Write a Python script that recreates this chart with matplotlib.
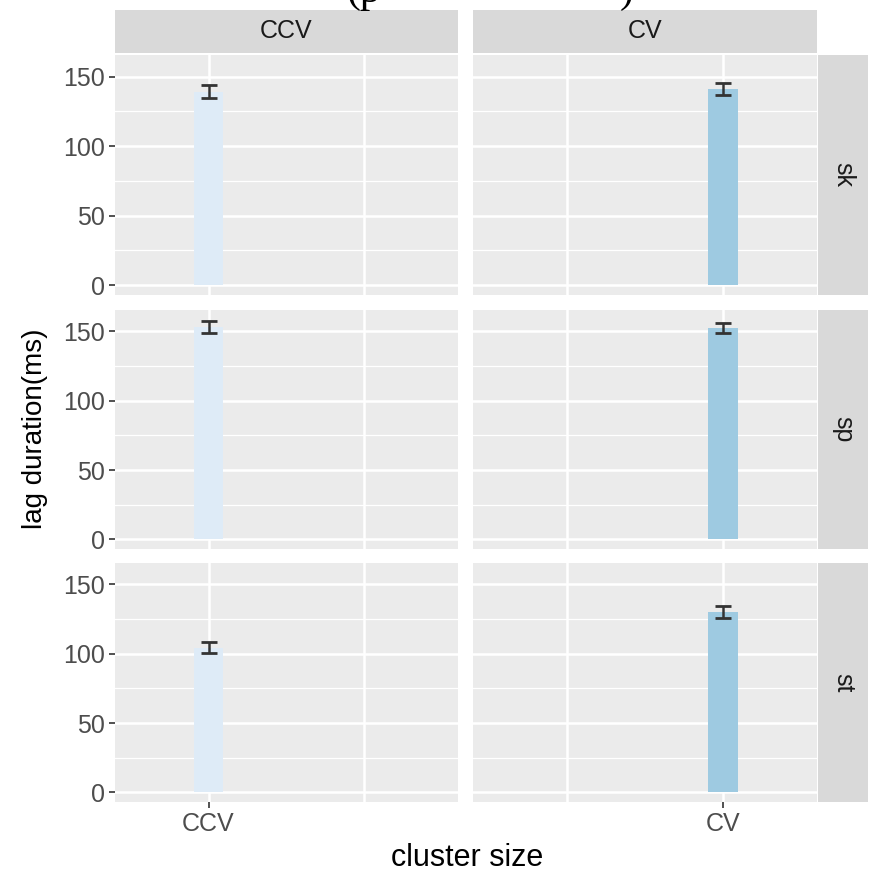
import numpy as np
import matplotlib.pyplot as plt

# Data: mean lag duration and error per facet.
rows = ['sk', 'sp', 'st']
cols = ['CCV', 'CV']
x_levels = ['CCV', 'CV']
means = {'CCV': [139, 153.3, 104.5], 'CV': [141, 152.7, 130.2]}
errs = {'CCV': [4.7, 4.2, 4.2], 'CV': [4.2, 3.6, 4.1]}
bar_colors = {'CCV': '#DEEBF7', 'CV': '#9ECAE1'}

W, H = 871, 875
fig = plt.figure(figsize=(W / 100, H / 100), dpi=100)
plt.rcParams['font.family'] = ['Liberation Sans', 'DejaVu Sans']

def px_axes(x0, y0, x1, y1):
    # pixel box (top-left origin) -> figure axes
    return fig.add_axes([x0 / W, 1 - y1 / H, (x1 - x0) / W, (y1 - y0) / H])

col_x = [(115, 458), (473, 817)]
row_y = [(55, 295), (310, 549), (563, 802)]
strip_bg = '#D9D9D9'
panel_bg = '#EBEBEB'
tick_fs = 18

for r, row in enumerate(rows):
    for c, col in enumerate(cols):
        ax = px_axes(col_x[c][0], row_y[r][0], col_x[c][1], row_y[r][1])
        ax.set_facecolor(panel_bg)
        xpos = x_levels.index(col) + 1
        ax.bar(xpos, means[col][r], width=0.19, color=bar_colors[col], zorder=3)
        ax.errorbar(xpos, means[col][r], yerr=errs[col][r], fmt='none',
                    ecolor='#333333', elinewidth=1.8, capsize=5.5, capthick=2, zorder=4)
        ax.set_xlim(0.4, 2.6)
        ax.set_ylim(-7, 165.5)
        ax.set_yticks([0, 50, 100, 150])
        ax.set_yticks([25, 75, 125], minor=True)
        ax.set_xticks([1, 2])
        ax.grid(True, which='major', color='white', linewidth=1.8, zorder=0)
        ax.grid(True, which='minor', axis='y', color='white', linewidth=0.9, zorder=0)
        ax.set_axisbelow(True)
        for s in ax.spines.values():
            s.set_visible(False)
        ax.tick_params(which='minor', length=0)
        ax.tick_params(which='major', color='#333333', length=4, width=1.2,
                       labelcolor='#4D4D4D', labelsize=tick_fs)
        if c == 0:
            ax.set_yticklabels(['0', '50', '100', '150'])
        else:
            ax.tick_params(axis='y', length=0, labelleft=False)
        if r == len(rows) - 1:
            ax.set_xticks([xpos])
            ax.set_xticks([1, 2], minor=True)
            ax.grid(True, which='minor', axis='x', color='white', linewidth=1.8, zorder=0)
            ax.set_xticklabels([col])
        else:
            ax.tick_params(axis='x', length=0, labelbottom=False)

        if r == 0:
            sax = px_axes(col_x[c][0], 10, col_x[c][1], 53)
            sax.set_facecolor(strip_bg)
            sax.set_xticks([]); sax.set_yticks([])
            for s in sax.spines.values():
                s.set_visible(False)
            sax.text(0.5, 0.5, col, ha='center', va='center', fontsize=tick_fs,
                     color='#1A1A1A', transform=sax.transAxes)
    rax = px_axes(818, row_y[r][0], 868, row_y[r][1])
    rax.set_facecolor(strip_bg)
    rax.set_xticks([]); rax.set_yticks([])
    for s in rax.spines.values():
        s.set_visible(False)
    rax.text(0.5, 0.5, row, ha='center', va='center', rotation=-90,
             fontsize=tick_fs, color='#1A1A1A', transform=rax.transAxes)

fig.text(467 / W, 1 - 858 / H, 'cluster size', ha='center', va='center',
         fontsize=22, color='black')
fig.text(35 / W, 1 - 429 / H, 'lag duration(ms)', ha='center', va='center',
         rotation=90, fontsize=20, color='black')

# cut-off title fragments at the very top
fig.text(346 / W, 1 - 2 / H, '(p', ha='left', va='baseline', fontsize=30,
         family='Liberation Serif', color='black')
fig.text(620 / W, 1 - 2 / H, ')', ha='left', va='baseline', fontsize=30,
         family='Liberation Serif', color='black')

fig.savefig('out.png', dpi=100)
